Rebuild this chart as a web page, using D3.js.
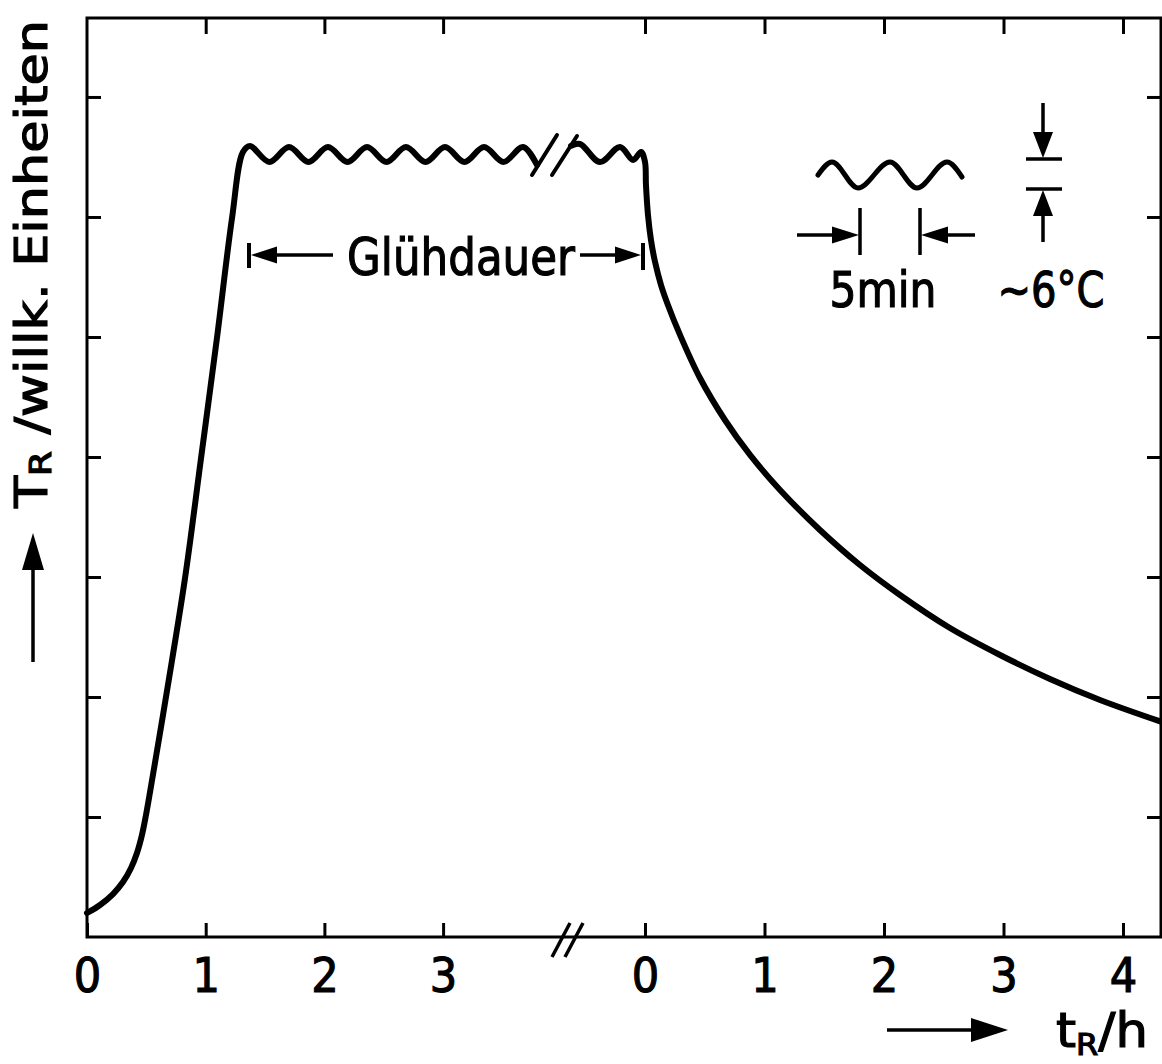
<!DOCTYPE html>
<html>
<head>
<meta charset="utf-8">
<script src="https://cdn.jsdelivr.net/npm/d3@7"></script>
<style>
  body { margin: 0; background: #fff; }
  svg { display: block; }
  text { font-family: "DejaVu Sans Condensed", "Liberation Sans Narrow", "DejaVu Sans", sans-serif; fill: #000; stroke: #000; stroke-width: 1.1px; }
</style>
</head>
<body>
<div id="chart"></div>
<script>
// heating run: time in h (left part of the axis), temperature in arbitrary units
const heatTime = [0, 0.11, 0.219, 0.303, 0.371, 0.421, 0.463, 0.497, 0.531, 0.615, 0.682, 0.826, 0.961, 1.095, 1.222, 1.314,
  1.373, 1.537, 1.702, 1.866, 2.03, 2.195, 2.359, 2.523, 2.687, 2.852, 3.016, 3.18, 3.345, 3.509, 3.673, 3.791];
const heatTemp = [0.2, 0.267, 0.358, 0.458, 0.575, 0.7, 0.85, 1.017, 1.208, 1.7, 2.1, 2.992, 3.992, 4.992, 5.992, 6.542,
  6.592, 6.458, 6.583, 6.458, 6.583, 6.458, 6.583, 6.458, 6.583, 6.458, 6.583, 6.458, 6.583, 6.458, 6.583, 6.433];

// end of the anneal and cooling: time in h after the end of the anneal (right part of the axis)
const coolTime = [-0.619, -0.544, -0.377, -0.209, -0.1, -0.033, 0, 0.008, 0.025, 0.05, 0.084, 0.134, 0.192, 0.293, 0.46,
  0.669, 0.879, 1.13, 1.464, 1.799, 2.134, 2.552, 2.971, 3.389, 3.808, 4.351];
const coolTemp = [6.592, 6.608, 6.458, 6.583, 6.475, 6.542, 6.458, 6.267, 6.017, 5.808, 5.625, 5.433, 5.267, 5.017, 4.658,
  4.308, 4.017, 3.725, 3.392, 3.1, 2.85, 2.575, 2.35, 2.15, 1.975, 1.783];

const heatTicks = [0, 1, 2, 3];
const coolTicks = [0, 1, 2, 3, 4];
const yTicks = [1, 2, 3, 4, 5, 6, 7];

const width = 1162;
const height = 1064;
const plotLeft = 87, plotRight = 1161, plotTop = 18, plotBottom = 937;

const svg = d3.select('#chart')
  .append('svg')
  .attr('width', width)
  .attr('height', height);

const xHeat = d3.scaleLinear().domain([0, 3.9]).range([plotLeft, plotLeft + 3.9 * 118.7]);
const xCool = d3.scaleLinear().domain([-0.8, 4.4]).range([645 - 0.8 * 119.5, 645 + 4.4 * 119.5]);
const y = d3.scaleLinear().domain([0, 7.658]).range([plotBottom, plotTop]);

// frame
svg.append('rect')
  .attr('x', plotLeft).attr('y', plotTop)
  .attr('width', plotRight - plotLeft).attr('height', plotBottom - plotTop)
  .attr('fill', 'none').attr('stroke', '#000').attr('stroke-width', 3);

function styleAxis(g) {
  g.select('.domain').remove();
  g.selectAll('.tick line').attr('stroke', '#000').attr('stroke-width', 3);
  g.selectAll('.tick text').attr('font-size', 48).attr('fill', '#000');
}

// bottom axis, two segments
svg.append('g')
  .attr('transform', `translate(0,${plotBottom})`)
  .call(d3.axisBottom(xHeat).tickValues(heatTicks).tickSize(-14).tickPadding(21).tickFormat(d3.format('d')))
  .call(styleAxis);
svg.append('g')
  .attr('transform', `translate(0,${plotBottom})`)
  .call(d3.axisBottom(xCool).tickValues(coolTicks).tickSize(-14).tickPadding(21).tickFormat(d3.format('d')))
  .call(styleAxis);

// top axis ticks
svg.append('g')
  .attr('transform', `translate(0,${plotTop})`)
  .call(d3.axisTop(xHeat).tickValues(heatTicks.slice(1)).tickSize(-16).tickFormat(''))
  .call(styleAxis);
svg.append('g')
  .attr('transform', `translate(0,${plotTop})`)
  .call(d3.axisTop(xCool).tickValues(coolTicks).tickSize(-16).tickFormat(''))
  .call(styleAxis);

// left and right ticks
svg.append('g')
  .attr('transform', `translate(${plotLeft},0)`)
  .call(d3.axisLeft(y).tickValues(yTicks).tickSize(-14).tickFormat(''))
  .call(styleAxis);
svg.append('g')
  .attr('transform', `translate(${plotRight},0)`)
  .call(d3.axisRight(y).tickValues(yTicks).tickSize(-14).tickFormat(''))
  .call(styleAxis);

// break marks on the time axis
[552, 565].forEach(x0 => {
  svg.append('line')
    .attr('x1', x0).attr('y1', 957).attr('x2', x0 + 18).attr('y2', 923)
    .attr('stroke', '#000').attr('stroke-width', 3.5);
});

// curves
const heatData = heatTime.map((t, i) => [t, heatTemp[i]]);
const coolData = coolTime.map((t, i) => [t, coolTemp[i]]);

const heatLine = d3.line().x(d => xHeat(d[0])).y(d => y(d[1])).curve(d3.curveCatmullRom.alpha(0.5));
const coolLine = d3.line().x(d => xCool(d[0])).y(d => y(d[1])).curve(d3.curveCatmullRom.alpha(0.5));

svg.append('path')
  .attr('d', heatLine(heatData))
  .attr('fill', 'none').attr('stroke', '#000').attr('stroke-width', 6)
  .attr('stroke-linejoin', 'round').attr('stroke-linecap', 'round');
svg.append('path')
  .attr('d', coolLine(coolData))
  .attr('fill', 'none').attr('stroke', '#000').attr('stroke-width', 6)
  .attr('stroke-linejoin', 'round').attr('stroke-linecap', 'round');

// break marks on the plateau
[[532, 175, 557, 135], [552, 175, 577, 136]].forEach(s => {
  svg.append('line')
    .attr('x1', s[0]).attr('y1', s[1]).attr('x2', s[2]).attr('y2', s[3])
    .attr('stroke', '#000').attr('stroke-width', 4).attr('stroke-linecap', 'round');
});

// arrow helpers
function head(tipX, tipY, dx, dy, len, w) {
  // dx, dy: unit direction the arrow points to
  const bx = tipX - dx * len, by = tipY - dy * len;
  const px = -dy * w / 2, py = dx * w / 2;
  svg.append('path')
    .attr('d', `M${tipX},${tipY}L${bx + px},${by + py}L${bx - px},${by - py}Z`)
    .attr('fill', '#000');
}
function seg(x1, y1, x2, y2, sw) {
  svg.append('line')
    .attr('x1', x1).attr('y1', y1).attr('x2', x2).attr('y2', y2)
    .attr('stroke', '#000').attr('stroke-width', sw || 3.5);
}

// Glühdauer
seg(249, 243, 249, 268, 4);
seg(270, 255, 333, 255);
head(251, 255, -1, 0, 26, 17);
seg(580, 255, 622, 255);
seg(643, 243, 643, 270, 4);
head(641, 255, 1, 0, 26, 17);
svg.append('text')
  .attr('x', 461).attr('y', 275)
  .attr('text-anchor', 'middle')
  .attr('font-size', 52)
  .attr('textLength', 228).attr('lengthAdjust', 'spacingAndGlyphs')
  .text('Glühdauer');

// legend: wave period and amplitude
const waveDx = [0, 14, 40, 72, 99, 129, 144];
const waveDy = [0, -13, 13, -13, 13, -13, 2];
svg.append('path')
  .attr('transform', 'translate(818,175)')
  .attr('d', d3.line().curve(d3.curveMonotoneX)(waveDx.map((d, i) => [d, waveDy[i]])))
  .attr('fill', 'none').attr('stroke', '#000').attr('stroke-width', 5).attr('stroke-linecap', 'round');

seg(860, 208, 860, 255);
seg(920, 208, 920, 255);
seg(797, 235, 840, 235);
head(859, 235, 1, 0, 27, 17);
seg(940, 235, 975, 235);
head(921, 235, -1, 0, 27, 17);
svg.append('text')
  .attr('x', 883).attr('y', 307)
  .attr('text-anchor', 'middle')
  .attr('font-size', 50)
  .attr('textLength', 107).attr('lengthAdjust', 'spacingAndGlyphs')
  .text('5min');

seg(1043, 103, 1043, 140);
head(1043, 158, 0, 1, 26, 20);
seg(1026, 159, 1062, 159);
seg(1026, 189, 1062, 189);
seg(1043, 208, 1043, 242);
head(1043, 190, 0, -1, 26, 20);
svg.append('text')
  .attr('x', 1051).attr('y', 307)
  .attr('text-anchor', 'middle')
  .attr('font-size', 50)
  .attr('textLength', 107).attr('lengthAdjust', 'spacingAndGlyphs')
  .text('~6°C');

// y axis title
seg(33, 662, 33, 560);
head(33, 533, 0, -1, 37, 22);
const yTitle = svg.append('text')
  .attr('transform', 'translate(47,508) rotate(-90)')
  .attr('font-size', 44)
  .attr('textLength', 488).attr('lengthAdjust', 'spacingAndGlyphs');
yTitle.append('tspan').text('T');
yTitle.append('tspan').attr('font-size', 30).attr('dy', 4).text('R');
yTitle.append('tspan').attr('dy', -4).text(' /willk. Einheiten');

// x axis title
seg(887, 1030, 975, 1030);
head(1008, 1030, 1, 0, 37, 24);
const xTitle = svg.append('text')
  .attr('x', 1056).attr('y', 1047)
  .attr('font-size', 48)
  .attr('textLength', 92).attr('lengthAdjust', 'spacingAndGlyphs');
xTitle.append('tspan').text('t');
xTitle.append('tspan').attr('font-size', 30).attr('dy', 8).text('R');
xTitle.append('tspan').attr('dy', -8).text('/h');
</script>
</body>
</html>
